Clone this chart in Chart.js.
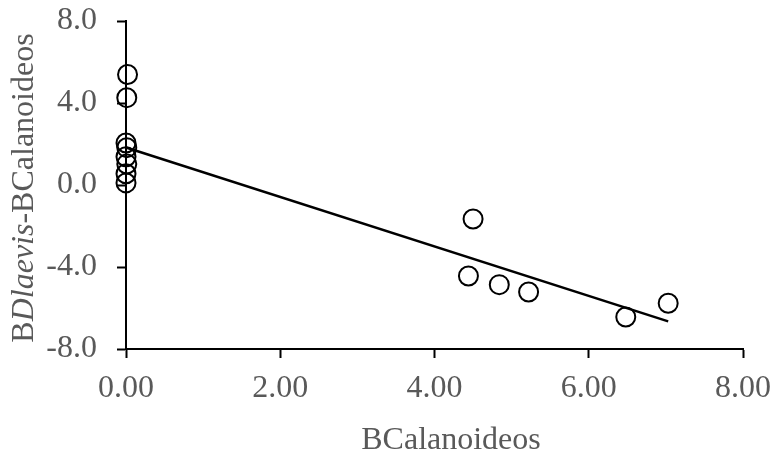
<!DOCTYPE html>
<html>
<head>
<meta charset="utf-8">
<script src="https://cdn.jsdelivr.net/npm/chart.js@4/dist/chart.umd.min.js"></script>
<style>
  html, body { margin: 0; padding: 0; background: #ffffff; }
  #wrap { width: 774px; height: 456px; }
</style>
</head>
<body>
<div id="wrap"><canvas id="c" width="774" height="456"></canvas></div>
<script>
// Biomass of calanoid copepods (x) against the D. laevis minus calanoid difference (y)
const bCalanoideos = [0.02, 0.01, 0.00, 0.01, 0.00, 0.01, 0.00, 0.00, 4.50, 4.44, 4.84, 5.22, 6.48, 7.03];
const bDiff        = [5.39, 4.26, 2.05, 1.82, 1.38, 1.02, 0.55, 0.10, -1.66, -4.44, -4.86, -5.22, -6.44, -5.77];

// Linear trend line end points
const trendX = [0.00, 7.03];
const trendY = [1.83, -6.65];

// Axis ranges and tick steps
const xTicks = [0, 2, 4, 6, 8];
const yTicks = [-8, -4, 0, 4, 8];

const xTitle = 'BCalanoideos';
const yTitleParts = [
  { text: 'B', italic: false },
  { text: 'Dlaevis', italic: true },
  { text: '-BCalanoideos', italic: false }
];

const FONT = '"Liberation Serif", "Times New Roman", serif';
const TEXT_GREY = '#595959';

const points = bCalanoideos.map((x, i) => ({ x: x, y: bDiff[i] }));
const trend = trendX.map((x, i) => ({ x: x, y: trendY[i] }));

// Axis titles: the y title mixes upright and italic runs
const axisTitles = {
  id: 'axisTitles',
  afterDraw(chart) {
    const ctx = chart.ctx;
    ctx.save();
    ctx.fillStyle = TEXT_GREY;
    ctx.textBaseline = 'alphabetic';

    ctx.font = '32px ' + FONT;
    ctx.textAlign = 'center';
    ctx.fillText(xTitle, 451, 449);

    const fonts = yTitleParts.map(p => (p.italic ? 'italic ' : '') + '32px ' + FONT);
    const widths = yTitleParts.map((p, i) => { ctx.font = fonts[i]; return ctx.measureText(p.text).width; });
    const total = widths.reduce((a, b) => a + b, 0);
    ctx.translate(33, 188);
    ctx.rotate(-Math.PI / 2);
    ctx.textAlign = 'left';
    let cx = -total / 2;
    yTitleParts.forEach((p, i) => {
      ctx.font = fonts[i];
      ctx.fillText(p.text, cx, 0);
      cx += widths[i];
    });
    ctx.restore();
  }
};

new Chart(document.getElementById('c'), {
  type: 'scatter',
  data: {
    datasets: [
      {
        label: 'Datos',
        data: points,
        pointStyle: 'circle',
        pointRadius: 9.5,
        pointHoverRadius: 9.5,
        borderColor: '#000000',
        backgroundColor: 'rgba(255,255,255,0)',
        borderWidth: 2,
        clip: false,
        order: 1
      },
      {
        label: 'Tendencia',
        type: 'line',
        data: trend,
        showLine: true,
        pointRadius: 0,
        borderColor: '#000000',
        borderWidth: 2.5,
        fill: false,
        clip: false,
        order: 2
      }
    ]
  },
  options: {
    responsive: false,
    animation: false,
    events: [],
    layout: { padding: { left: 0, right: 31, top: 21, bottom: 0 } },
    plugins: {
      legend: { display: false },
      tooltip: { enabled: false },
      title: { display: false }
    },
    scales: {
      x: {
        type: 'linear',
        min: xTicks[0],
        max: xTicks[xTicks.length - 1],
        afterBuildTicks(scale) { scale.ticks = xTicks.map(v => ({ value: v })); },
        afterFit(scale) {
          scale.height = 107;
          scale.paddingLeft = 0;
          scale.paddingRight = 0;
        },
        ticks: {
          callback: v => Number(v).toFixed(2),
          color: TEXT_GREY,
          font: { family: FONT, size: 32 },
          padding: 11,
          maxRotation: 0,
          autoSkip: false
        },
        grid: {
          display: true,
          drawOnChartArea: false,
          drawTicks: true,
          tickLength: 9,
          tickWidth: 2,
          tickColor: '#000000'
        },
        border: { display: true, color: '#000000', width: 2 }
      },
      y: {
        type: 'linear',
        min: yTicks[0],
        max: yTicks[yTicks.length - 1],
        afterBuildTicks(scale) { scale.ticks = yTicks.map(v => ({ value: v })); },
        afterFit(scale) {
          scale.width = 126;
          scale.paddingTop = 0;
          scale.paddingBottom = 0;
        },
        ticks: {
          callback: v => Number(v).toFixed(1),
          color: TEXT_GREY,
          font: { family: FONT, size: 32 },
          padding: 20,
          autoSkip: false
        },
        grid: {
          display: true,
          drawOnChartArea: false,
          drawTicks: true,
          tickLength: 9,
          tickWidth: 2,
          tickColor: '#000000'
        },
        border: { display: true, color: '#000000', width: 2 }
      }
    }
  },
  plugins: [axisTitles]
});
</script>
</body>
</html>
